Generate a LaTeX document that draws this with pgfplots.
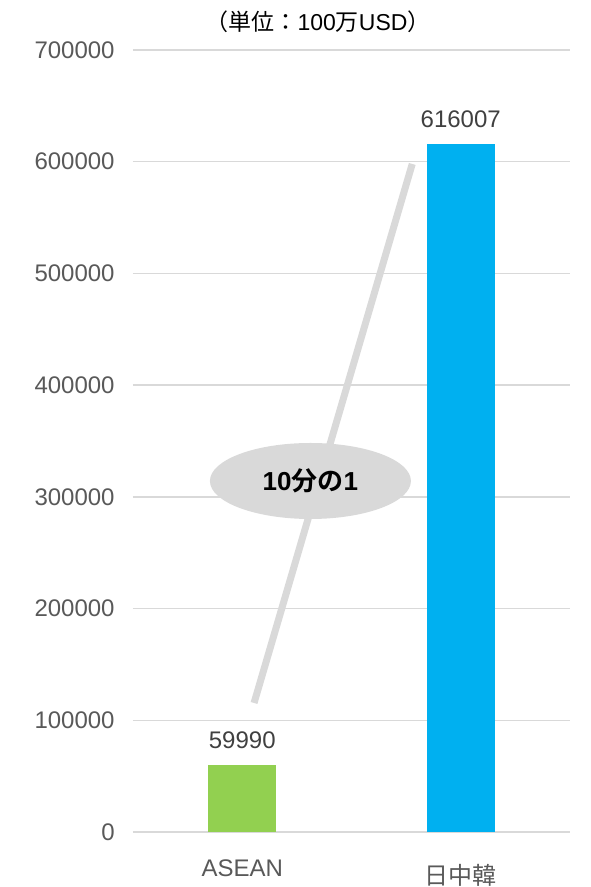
\documentclass[border=0pt]{standalone}
\usepackage{pgfplots}
\pgfplotsset{compat=1.18}
\usepackage{fontspec}
\setmainfont{Liberation Sans}
\newfontfamily\jp{Noto Sans CJK JP}[BoldFont={Noto Sans CJK JP Bold}]
\usetikzlibrary{shapes.geometric}
\definecolor{asean}{HTML}{92D050}
\definecolor{cjk}{HTML}{00B0F0}
\definecolor{gridc}{HTML}{D9D9D9}
\definecolor{ticktxt}{HTML}{595959}
\definecolor{lbltxt}{HTML}{404040}
\begin{document}
\begin{tikzpicture}
\path[use as bounding box] (-66.5pt,-27.5pt) rectangle (228.5pt,416pt);
\begin{axis}[
  scale only axis,
  width=218.5pt, height=391pt,
  xmin=-0.5, xmax=1.5,
  ymin=0, ymax=700000,
  ytick={0,100000,...,700000},
  xtick={0,1},
  xticklabels={ASEAN,{\raisebox{-4pt}{\jp 日中韓}}},
  axis line style={draw=none},
  tick style={draw=none},
  ymajorgrids,
  grid style={gridc, line width=0.75pt},
  scaled y ticks=false,
  /pgf/number format/assume math mode=true,
  yticklabel style={/pgf/number format/fixed, /pgf/number format/1000 sep={}, font=\fontsize{12pt}{14pt}\selectfont, text=ticktxt, inner sep=0pt, anchor=east, xshift=-9pt},
  xticklabel style={font=\fontsize{12pt}{14pt}\selectfont, text=ticktxt, inner sep=0pt, anchor=base, yshift=-18pt},
  ybar, bar width=34pt,
  nodes near coords,
  nodes near coords style={font=\fontsize{12pt}{14pt}\selectfont, text=lbltxt, inner sep=0pt, anchor=south, yshift=8pt, /pgf/number format/fixed, /pgf/number format/1000 sep={}},
  clip=false,
]
\addplot[ybar, bar shift=0pt, fill=asean, draw=none] coordinates {(0,59990)};
\addplot[ybar, bar shift=0pt, fill=cjk, draw=none] coordinates {(1,616007)};
\addplot[sharp plot, no marks, nodes near coords=, gridc, line width=3.5pt] coordinates {(0.054,115500) (0.778,598000)};
\node[ellipse, fill=gridc, minimum width=100.5pt, minimum height=38pt, inner sep=0pt, font=\fontsize{13pt}{15pt}\selectfont\bfseries] at (axis cs:0.312,314200) {10{\jp 分の}1};
\end{axis}
\node[font=\fontsize{11.5pt}{13pt}\selectfont] at (92.5pt,405pt) {{\jp （単位：}100{\jp 万}USD{\jp ）}};
\end{tikzpicture}
\end{document}
